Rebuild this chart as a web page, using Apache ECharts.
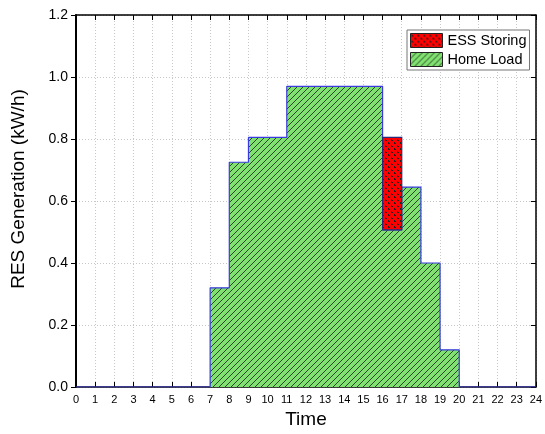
<!DOCTYPE html>
<html>
<head>
<meta charset="utf-8">
<script src="https://cdn.jsdelivr.net/npm/echarts@6/dist/echarts.min.js"></script>
<style>
  html, body { margin: 0; padding: 0; background: #fff; }
  #main { width: 545px; height: 434px; }
</style>
</head>
<body>
<div id="main"></div>
<script>
// data
var hours = [0,1,2,3,4,5,6,7,8,9,10,11,12,13,14,15,16,17,18,19,20,21,22,23,24];
var homeLoad = [0,0,0,0,0,0,0,0.32,0.725,0.805,0.805,0.97,0.97,0.97,0.97,0.97,0.507,0.645,0.40,0.12,0,0,0,0,0];
var essFrom = [16];
var essTo = [17];
var essBottom = [0.507];
var essTop = [0.805];

// fill patterns
function makeHatch() {
  var c = document.createElement('canvas');
  c.width = 6; c.height = 6;
  var ctx = c.getContext('2d');
  ctx.fillStyle = '#80e070';
  ctx.fillRect(0, 0, 6, 6);
  ctx.strokeStyle = '#1e3a1e';
  ctx.lineWidth = 0.9;
  ctx.beginPath();
  ctx.moveTo(0, 6); ctx.lineTo(6, 0);
  ctx.moveTo(-1, 1); ctx.lineTo(1, -1);
  ctx.moveTo(5, 7); ctx.lineTo(7, 5);
  ctx.stroke();
  return c;
}
function makeDots() {
  var c = document.createElement('canvas');
  c.width = 6; c.height = 6;
  var ctx = c.getContext('2d');
  ctx.fillStyle = '#ff0000';
  ctx.fillRect(0, 0, 6, 6);
  ctx.fillStyle = '#222';
  ctx.fillRect(1, 1, 1, 1);
  ctx.fillRect(1, 2, 2, 1);
  ctx.fillRect(4, 4, 1, 1);
  ctx.fillRect(4, 5, 2, 1);
  return c;
}
var greenPat = { image: makeHatch(), repeat: 'repeat' };
var redPat = { image: makeDots(), repeat: 'repeat' };

var loadLine = hours.map(function (h, i) { return [h, homeLoad[i]]; });
var essData = essFrom.map(function (f, i) { return [f, essTo[i], essBottom[i], essTop[i]]; });

var chart = echarts.init(document.getElementById('main'));
var font = 'Liberation Sans, Arial, sans-serif';
var gridLine = { show: true, lineStyle: { color: '#c8c8c8', type: [1, 2], width: 1 } };

chart.setOption({
  animation: false,
  textStyle: { fontFamily: font },
  grid: { left: 76, right: 5, top: 15, bottom: 47 },
  legend: {
    left: 407, top: 30,
    orient: 'vertical',
    itemWidth: 32, itemHeight: 14, itemGap: 4,
    padding: [3, 3, 3, 3],
    borderColor: '#777', borderWidth: 1, borderRadius: 0,
    backgroundColor: '#fff',
    textStyle: { fontSize: 14.5, lineHeight: 14, color: '#000', fontFamily: font },
    data: [
      { name: 'ESS Storing', icon: 'rect', itemStyle: { color: redPat, borderColor: '#222', borderWidth: 1 } },
      { name: 'Home Load', icon: 'rect', itemStyle: { color: greenPat, borderColor: '#222', borderWidth: 1 } }
    ]
  },
  xAxis: [{
    type: 'value', min: 0, max: 24, interval: 1, position: 'bottom',
    name: 'Time', nameLocation: 'middle', nameGap: 23,
    nameTextStyle: { fontSize: 19, color: '#000', fontFamily: font },
    axisLine: { onZero: false, lineStyle: { color: '#000', width: 1.5 } },
    axisTick: { inside: true, length: 5, lineStyle: { color: '#000' } },
    axisLabel: { fontSize: 11, color: '#000', margin: 7 },
    splitLine: gridLine
  }, {
    type: 'value', min: 0, max: 24, interval: 1, position: 'top',
    axisLine: { onZero: false, lineStyle: { color: '#000', width: 1.5 } },
    axisTick: { inside: true, length: 5, lineStyle: { color: '#000' } },
    axisLabel: { show: false },
    splitLine: { show: false }
  }],
  yAxis: [{
    type: 'value', min: 0, max: 1.2, interval: 0.2, position: 'left',
    name: 'RES Generation (kW/h)', nameLocation: 'middle', nameGap: 48,
    nameTextStyle: { fontSize: 19, color: '#000', fontFamily: font, padding: [0, 0, 0, 24] },
    axisLine: { onZero: false, lineStyle: { color: '#000', width: 2 } },
    axisTick: { inside: false, length: 5, lineStyle: { color: '#000' } },
    axisLabel: { fontSize: 14, color: '#000', margin: 8, formatter: function (v) { return v.toFixed(1); } },
    splitLine: gridLine
  }, {
    type: 'value', min: 0, max: 1.2, interval: 0.2, position: 'right',
    axisLine: { onZero: false, lineStyle: { color: '#000', width: 1.5 } },
    axisTick: { inside: true, length: 5, lineStyle: { color: '#000' } },
    axisLabel: { show: false },
    splitLine: { show: false }
  }],
  series: [{
    name: 'Home Load',
    type: 'line',
    step: 'end',
    xAxisIndex: 0, yAxisIndex: 0,
    showSymbol: false, symbol: 'none',
    data: loadLine,
    lineStyle: { color: '#3a3ae0', width: 1.2 },
    itemStyle: { color: greenPat },
    areaStyle: { color: greenPat, opacity: 1 },
    z: 3
  }, {
    name: 'ESS Storing',
    type: 'custom',
    xAxisIndex: 0, yAxisIndex: 0,
    data: essData,
    itemStyle: { color: redPat },
    renderItem: function (params, api) {
      var p0 = api.coord([api.value(0), api.value(3)]);
      var p1 = api.coord([api.value(1), api.value(2)]);
      return {
        type: 'rect',
        shape: { x: p0[0], y: p0[1], width: p1[0] - p0[0], height: p1[1] - p0[1] },
        style: { fill: redPat, stroke: '#2a2a7a', lineWidth: 1.2 }
      };
    },
    z: 4
  }]
});
</script>
</body>
</html>
